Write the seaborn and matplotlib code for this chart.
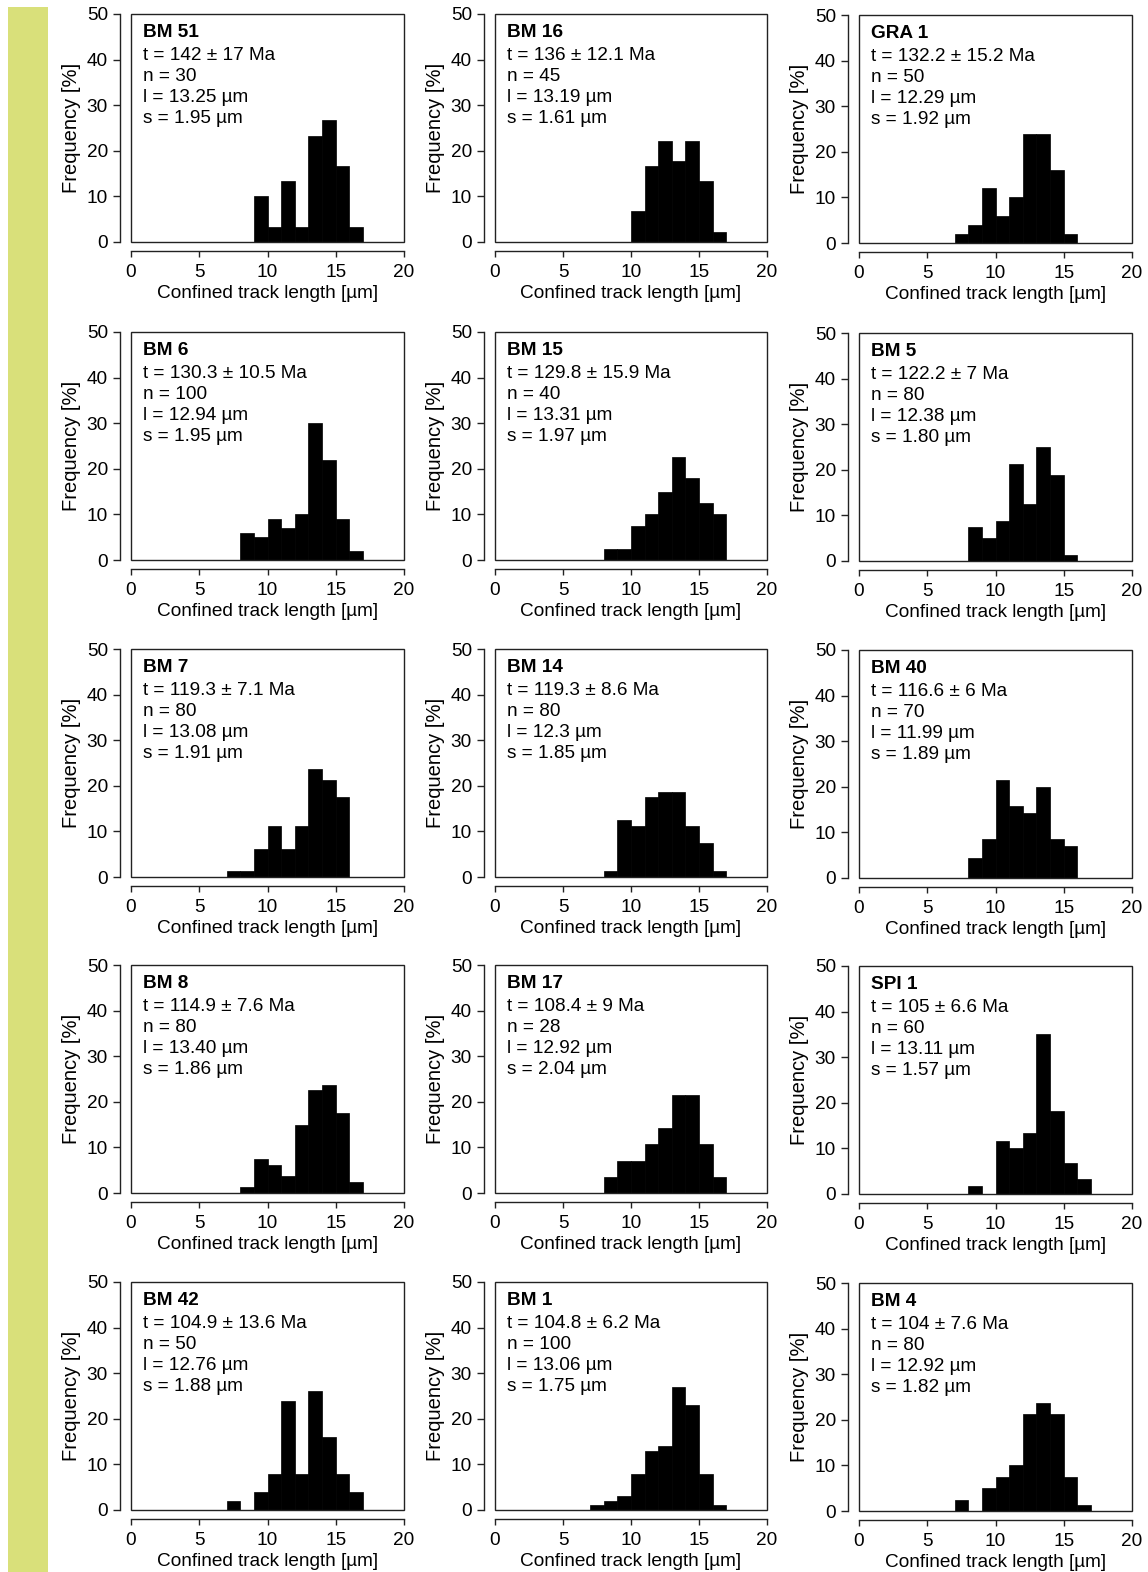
import numpy as np
import pandas as pd
import matplotlib
matplotlib.use("Agg")
import matplotlib.pyplot as plt
import seaborn as sns
from matplotlib.patches import Rectangle

# sample metadata, panel order left->right, top->bottom
sample_names = ["BM 51", "BM 16", "GRA 1",
                "BM 6", "BM 15", "BM 5",
                "BM 7", "BM 14", "BM 40",
                "BM 8", "BM 17", "SPI 1",
                "BM 42", "BM 1", "BM 4"]
ages = ["142 ± 17", "136 ± 12.1", "132.2 ± 15.2",
        "130.3 ± 10.5", "129.8 ± 15.9", "122.2 ± 7",
        "119.3 ± 7.1", "119.3 ± 8.6", "116.6 ± 6",
        "114.9 ± 7.6", "108.4 ± 9", "105 ± 6.6",
        "104.9 ± 13.6", "104.8 ± 6.2", "104 ± 7.6"]
n_tracks = [30, 45, 50, 100, 40, 80, 80, 80, 70, 80, 28, 60, 50, 100, 80]
mean_lengths = ["13.25", "13.19", "12.29", "12.94", "13.31", "12.38",
                "13.08", "12.3", "11.99", "13.40", "12.92", "13.11",
                "12.76", "13.06", "12.92"]
std_lengths = ["1.95", "1.61", "1.92", "1.95", "1.97", "1.80",
               "1.91", "1.85", "1.89", "1.86", "2.04", "1.57",
               "1.88", "1.75", "1.82"]

# histogram frequencies [%] in 1 µm bins, starting at first_bins[i]
first_bins = [9, 10, 7, 8, 8, 8, 7, 8, 8, 8, 8, 8, 7, 7, 7]
frequencies = [
    [10, 3.3, 13.3, 3.3, 23.3, 26.7, 16.7, 3.3],
    [6.7, 16.7, 22.2, 17.8, 22.2, 13.3, 2.2],
    [2, 4, 12, 6, 10, 24, 24, 16, 2],
    [6, 5, 9, 7, 10, 30, 22, 9, 2],
    [2.5, 2.5, 7.5, 10, 15, 22.5, 18, 12.5, 10],
    [7.5, 5, 8.75, 21.25, 12.5, 25, 18.75, 1.25],
    [1.25, 1.25, 6.25, 11.25, 6.25, 11.25, 23.75, 21.25, 17.5],
    [1.25, 12.5, 11.25, 17.5, 18.75, 18.75, 11.25, 7.5, 1.25],
    [4.3, 8.6, 21.4, 15.7, 14.3, 20, 8.6, 7.1],
    [1.25, 7.5, 6.25, 3.75, 15, 22.5, 23.75, 17.5, 2.5],
    [3.6, 7.1, 7.1, 10.7, 14.3, 21.4, 21.4, 10.7, 3.6],
    [1.7, 0, 11.7, 10, 13.3, 35, 18.3, 6.7, 3.3],
    [2, 0, 4, 8, 24, 8, 26, 16, 8, 4],
    [1, 2, 3, 8, 13, 14, 27, 23, 8, 1],
    [2.5, 0, 5, 7.5, 10, 21.25, 23.75, 21.25, 7.5, 1.25],
]

sns.set_theme(style="ticks")
plt.rcParams["font.family"] = ["Liberation Sans", "DejaVu Sans"]
plt.rcParams["axes.linewidth"] = 1.0
plt.rcParams["text.color"] = "black"
plt.rcParams["axes.labelcolor"] = "black"

W, H = 1148, 1572
fig = plt.figure(figsize=(W / 100, H / 100), dpi=100)
fig.add_artist(Rectangle((8 / W, 0), 40 / W, 1 - 7 / H, transform=fig.transFigure,
                         facecolor="#d9e07a", edgecolor="none", zorder=0))

# frame boxes in pixels
col_left = [131, 495, 859]
col_width = [273, 272, 273]
row_top = [14, 332, 649, 965, 1282]
frame_h = 228
fs = 13.7

for i, name in enumerate(sample_names):
    r, c = divmod(i, 3)
    left, top = col_left[c], row_top[r] + (1 if c == 2 else 0)
    ax = fig.add_axes([left / W, 1 - (top + frame_h) / H, col_width[c] / W, frame_h / H])

    vals = np.array(frequencies[i])
    df = pd.DataFrame({"length": first_bins[i] + 0.5 + np.arange(len(vals)),
                       "freq": vals})
    sns.histplot(data=df, x="length", weights="freq", binwidth=1, binrange=(0, 20),
                 ax=ax, color="black", edgecolor="black", linewidth=0.5, alpha=1)

    ax.set_xlim(0, 20)
    ax.set_ylim(0, 50)
    for side in ["top", "right"]:
        ax.spines[side].set_visible(False)
    ax.spines["left"].set_position(("outward", 8))
    ax.spines["bottom"].set_position(("outward", 6.5))
    ax.spines["left"].set_bounds(0, 50)
    ax.spines["bottom"].set_bounds(0, 20)
    for side in ["left", "bottom"]:
        ax.spines[side].set_color("#222222")
    ax.add_patch(Rectangle((0, 0), 1, 1, transform=ax.transAxes, fill=False,
                           edgecolor="#222222", linewidth=1.0, clip_on=False, zorder=5))

    ax.set_xticks([0, 5, 10, 15, 20])
    ax.set_yticks([0, 10, 20, 30, 40, 50])
    ax.tick_params(direction="out", length=5, width=1, labelsize=fs,
                   color="#222222", labelcolor="black")
    ax.tick_params(axis="x", length=4.5, pad=5)
    ax.tick_params(axis="y", pad=3.6)
    ax.set_xlabel("Confined track length [µm]", fontsize=fs, labelpad=2.5)
    ax.set_ylabel("Frequency [%]", fontsize=14.5, labelpad=4)

    lines = [name, f"t = {ages[i]} Ma", f"n = {n_tracks[i]}",
             f"l = {mean_lengths[i]} µm", f"s = {std_lengths[i]} µm"]
    offsets = [18.5, 41.5, 62.5, 83.5, 104.5]
    for k, txt in enumerate(lines):
        ax.text(0.043, 1 - offsets[k] / frame_h, txt, transform=ax.transAxes,
                va="center", ha="left", fontsize=fs, color="black",
                fontweight="bold" if k == 0 else "normal")

fig.savefig("out.png", dpi=100)
